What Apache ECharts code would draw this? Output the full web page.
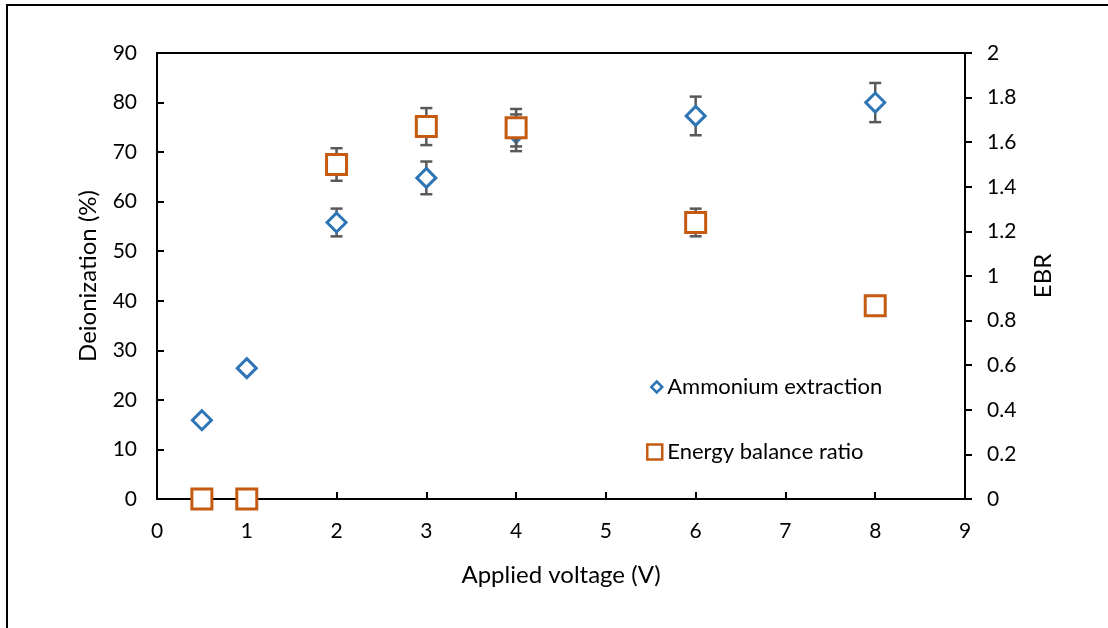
<!DOCTYPE html>
<html>
<head>
<meta charset="utf-8">
<script src="https://cdn.jsdelivr.net/npm/echarts@6/dist/echarts.min.js"></script>
<style>
  html, body { margin: 0; padding: 0; background: #fff; }
  #chart { width: 1108px; height: 628px; }
</style>
</head>
<body>
<div id="chart"></div>
<script>
// Applied voltage (V)
const voltage = [0.5, 1, 2, 3, 4, 6, 8];
// Ammonium extraction, deionization (%) and its standard deviation
const ammonium = [15.9, 26.4, 55.8, 64.8, 73.9, 77.3, 80.0];
const ammoniumErr = [0, 0, 2.8, 3.3, 3.7, 3.9, 3.95];
// Energy balance ratio (EBR) and its standard deviation
const ebr = [0, 0, 1.50, 1.67, 1.665, 1.24, 0.867];
const ebrErr = [0, 0, 0.073, 0.083, 0.084, 0.062, 0];

const leftTicks = { min: 0, max: 90, interval: 10 };
const rightTicks = { min: 0, max: 2, interval: 0.2 };

const FONT = 'Lato';
const BLUE = '#2E75B6';
const ORANGE = '#C55A11';
const ERR = '#595959';

function points(xs, ys) {
  return xs.map((x, i) => [x, ys[i]]);
}
function ranges(xs, ys, es) {
  const out = [];
  xs.forEach((x, i) => {
    if (es[i] > 0) out.push([x, ys[i] - es[i], ys[i] + es[i]]);
  });
  return out;
}

// vertical error bar with caps
function renderErrorBar(params, api) {
  const x = api.value(0);
  const lo = api.coord([x, api.value(1)]);
  const hi = api.coord([x, api.value(2)]);
  const half = 6;
  const style = { stroke: ERR, lineWidth: 2.5 };
  return {
    type: 'group',
    children: [
      { type: 'line', shape: { x1: lo[0], y1: lo[1], x2: hi[0], y2: hi[1] }, style },
      { type: 'line', shape: { x1: hi[0] - half, y1: hi[1], x2: hi[0] + half, y2: hi[1] }, style },
      { type: 'line', shape: { x1: lo[0] - half, y1: lo[1], x2: lo[0] + half, y2: lo[1] }, style }
    ]
  };
}

function trimNum(v) {
  return String(Math.round(v * 10) / 10);
}

function txt(size, extra) {
  return Object.assign({ color: '#000', fontFamily: FONT, fontSize: size }, extra || {});
}

const chart = echarts.init(document.getElementById('chart'), null, { renderer: 'canvas' });

chart.setOption({
  animation: false,
  backgroundColor: '#fff',
  textStyle: { fontFamily: FONT },
  graphic: [{
    type: 'rect',
    shape: { x: 7, y: 5, width: 1200, height: 700 },
    style: { fill: 'none', stroke: '#000', lineWidth: 2 },
    silent: true
  }],
  grid: {
    left: 157, right: 143, top: 53, bottom: 129,
    show: true, borderColor: '#000', borderWidth: 2, backgroundColor: 'transparent'
  },
  legend: [{
    data: ['Ammonium extraction'],
    left: 650, top: 375, padding: 0,
    itemWidth: 11, itemHeight: 11,
    itemStyle: { borderWidth: 2.5 },
    textStyle: txt(22, { lineHeight: 24 })
  }, {
    data: ['Energy balance ratio'],
    left: 646, top: 440, padding: 0,
    itemWidth: 15, itemHeight: 15,
    itemStyle: { borderWidth: 2.5 },
    textStyle: txt(22, { lineHeight: 24 })
  }],
  xAxis: {
    type: 'value',
    min: 0, max: 9, interval: 1,
    name: 'Applied voltage (V)',
    nameLocation: 'middle',
    nameGap: 64,
    nameTextStyle: txt(24),
    axisLine: { lineStyle: { color: '#000', width: 2 } },
    axisTick: { inside: true, length: 7, lineStyle: { color: '#000', width: 2 } },
    axisLabel: txt(21, { margin: 22 }),
    splitLine: { show: false }
  },
  yAxis: [{
    type: 'value',
    position: 'left',
    min: leftTicks.min, max: leftTicks.max, interval: leftTicks.interval,
    name: 'Deionization (%)',
    nameLocation: 'middle',
    nameGap: 57,
    nameTextStyle: txt(24),
    axisLine: { show: true, lineStyle: { color: '#000', width: 2 } },
    axisTick: { show: true, inside: true, length: 7, lineStyle: { color: '#000', width: 2 } },
    axisLabel: txt(21, { margin: 20 }),
    splitLine: { show: false }
  }, {
    type: 'value',
    position: 'right',
    min: rightTicks.min, max: rightTicks.max, interval: rightTicks.interval,
    name: 'EBR',
    nameLocation: 'middle',
    nameRotate: 90,
    nameGap: 66,
    nameTextStyle: txt(24),
    axisLine: { show: true, lineStyle: { color: '#000', width: 2 } },
    axisTick: { show: true, inside: false, length: 7, lineStyle: { color: '#000', width: 2 } },
    axisLabel: txt(21, { margin: 22, formatter: trimNum }),
    splitLine: { show: false }
  }],
  series: [{
    name: 'Ammonium extraction error',
    type: 'custom',
    yAxisIndex: 0,
    renderItem: renderErrorBar,
    data: ranges(voltage, ammonium, ammoniumErr),
    z: 1,
    silent: true
  }, {
    name: 'Ammonium extraction',
    type: 'scatter',
    yAxisIndex: 0,
    symbol: 'diamond',
    symbolSize: 19,
    itemStyle: { color: '#fff', borderColor: BLUE, borderWidth: 3, opacity: 1 },
    data: points(voltage, ammonium),
    z: 2
  }, {
    name: 'Energy balance ratio error',
    type: 'custom',
    yAxisIndex: 1,
    renderItem: renderErrorBar,
    data: ranges(voltage, ebr, ebrErr),
    z: 3,
    silent: true
  }, {
    name: 'Energy balance ratio',
    type: 'scatter',
    yAxisIndex: 1,
    symbol: 'rect',
    symbolSize: 20,
    itemStyle: { color: '#fff', borderColor: ORANGE, borderWidth: 3, opacity: 1 },
    data: points(voltage, ebr),
    z: 4
  }]
});
</script>
</body>
</html>
